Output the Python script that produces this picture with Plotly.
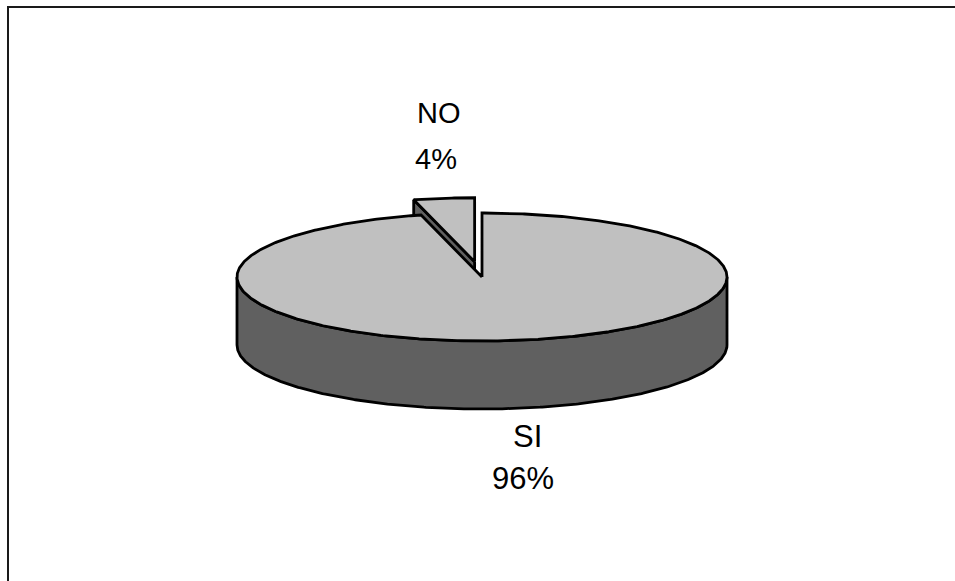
import numpy as np
import plotly.graph_objects as go

# ---- data ----
labels = ["SI", "NO"]
values = [96, 4]
pct_labels = ["96%", "4%"]
explode = [0.0, 0.24]
top_colors = ["#C0C0C0", "#C0C0C0"]
side_colors = ["#606060", "#606060"]

# label positions (pixel space) and font sizes
label_pos = [(527, 436), (439, 113)]
pct_pos = [(523, 478), (436, 159)]
label_sizes = [31, 29]

# ---- geometry (pixel space) ----
W, H = 955, 581
cx, cy, rx, ry, depth = 482, 277, 245, 64, 68
OUT = "#000000"
LW = 2.8

total = float(sum(values))
starts, ends = [], []
acc = 0.0
for v in values:
    starts.append(acc / total * 360.0)
    acc += v
    ends.append(acc / total * 360.0)


def offset(i):
    mid = np.radians((starts[i] + ends[i]) / 2.0)
    return explode[i] * rx * np.sin(mid), -explode[i] * ry * np.cos(mid)


def rim(theta_deg, ox, oy, dz=0.0):
    t = np.radians(theta_deg)
    return cx + ox + rx * np.sin(t), cy + oy - ry * np.cos(t) + dz


def poly(xs, ys, fill):
    return go.Scatter(
        x=list(xs) + [xs[0]], y=list(ys) + [ys[0]],
        mode="lines", fill="toself", fillcolor=fill,
        line=dict(color=OUT, width=LW), hoverinfo="skip", showlegend=False,
    )


def top_face(i):
    ox, oy = offset(i)
    th = np.linspace(starts[i], ends[i], max(8, int((ends[i] - starts[i]) * 2)))
    px, py = rim(th, ox, oy)
    xs = [cx + ox] + list(px)
    ys = [cy + oy] + list(py)
    return poly(xs, ys, top_colors[i])


def front_wall(i):
    a, b = max(starts[i], 90.0), min(ends[i], 270.0)
    if b <= a:
        return None
    ox, oy = offset(i)
    th = np.linspace(a, b, int((b - a) * 2) + 2)
    tx, ty = rim(th, ox, oy)
    bx, by = rim(th[::-1], ox, oy, depth)
    return poly(list(tx) + list(bx), list(ty) + list(by), side_colors[i])


def radial_faces(i):
    out = []
    ox, oy = offset(i)
    for ang, sign in ((starts[i], -1), (ends[i], 1)):
        s = np.sin(np.radians(ang))
        visible = (sign == -1 and s < -1e-9) or (sign == 1 and s > 1e-9)
        if not visible:
            continue
        px, py = rim(ang, ox, oy)
        xs = [cx + ox, px, px, cx + ox]
        ys = [cy + oy, py, py + depth, cy + oy + depth]
        out.append(poly(xs, ys, side_colors[i]))
    return out


fig = go.Figure()
# back (exploded) slice first, then the main slice on top
order = sorted(range(len(values)), key=lambda i: -explode[i])
for i in order:
    for tr in radial_faces(i):
        fig.add_trace(tr)
    fw = front_wall(i)
    if fw is not None:
        fig.add_trace(fw)
    fig.add_trace(top_face(i))

annotations = []
for i in range(len(values)):
    annotations.append(dict(x=label_pos[i][0], y=label_pos[i][1], text=labels[i],
                            xref="x", yref="y", showarrow=False,
                            xanchor="center", yanchor="middle",
                            font=dict(family="Liberation Sans, Arial", size=label_sizes[i], color="black")))
    annotations.append(dict(x=pct_pos[i][0], y=pct_pos[i][1], text=pct_labels[i],
                            xref="x", yref="y", showarrow=False,
                            xanchor="center", yanchor="middle",
                            font=dict(family="Liberation Sans, Arial", size=label_sizes[i], color="black")))

fig.update_layout(
    width=W, height=H, autosize=False,
    margin=dict(l=0, r=0, t=0, b=0),
    paper_bgcolor="white", plot_bgcolor="white",
    xaxis=dict(range=[0, W], visible=False, fixedrange=True),
    yaxis=dict(range=[H, 0], visible=False, fixedrange=True),
    annotations=annotations,
    shapes=[dict(type="rect", xref="x", yref="y", x0=8, y0=7, x1=W + 10, y1=H + 10,
                 line=dict(color="#1a1a1a", width=2), fillcolor="rgba(0,0,0,0)", layer="below")],
)

fig.write_html("out.html")
